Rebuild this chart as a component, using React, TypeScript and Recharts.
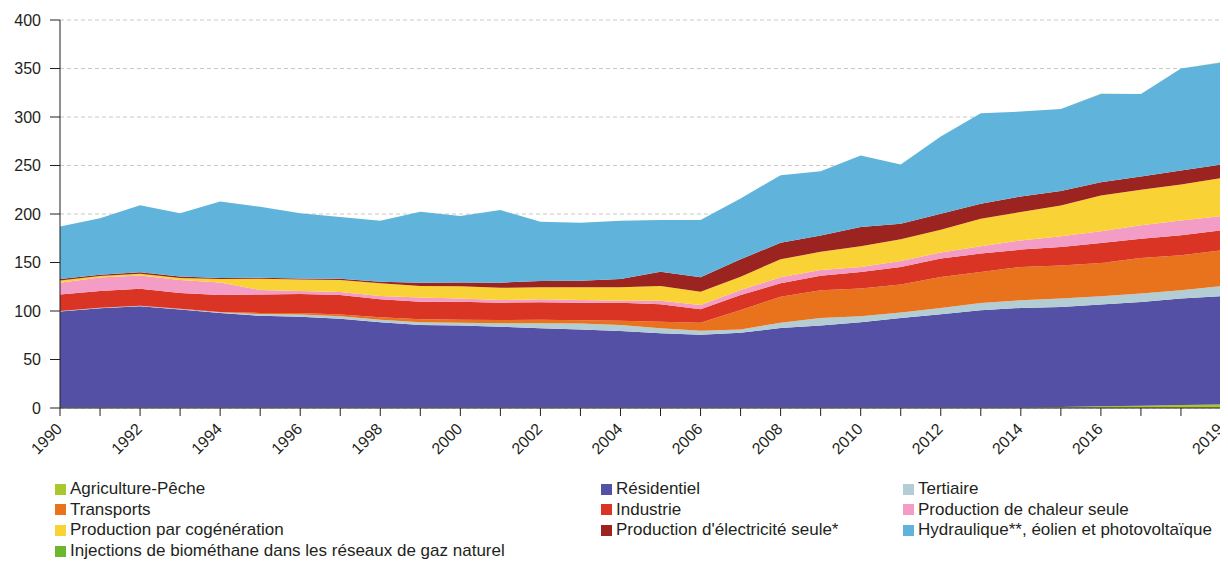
import React from "react";
import { AreaChart, Area, XAxis, YAxis, CartesianGrid } from "recharts";

const years = [
  1990, 1991, 1992, 1993, 1994, 1995, 1996, 1997, 1998, 1999,
  2000, 2001, 2002, 2003, 2004, 2005, 2006, 2007, 2008, 2009,
  2010, 2011, 2012, 2013, 2014, 2015, 2016, 2017, 2018, 2019,
];

const labelledYears = [1990, 1992, 1994, 1996, 1998, 2000, 2002, 2004, 2006, 2008, 2010, 2012, 2014, 2016, 2019];
const yTicks = [0, 50, 100, 150, 200, 250, 300, 350, 400];

const agriculture = [
  0.5, 0.5, 0.5, 0.5, 0.5, 0.5, 0.5, 0.5, 0.5, 0.5,
  0.5, 0.5, 0.5, 0.5, 0.5, 0.5, 0.5, 0.5, 0.5, 0.5,
  0.5, 0.5, 0.5, 0.5, 0.5, 1.0, 1.8, 2.4, 3.0, 3.5,
];
const residentiel = [
  99.0, 102.3, 104.5, 101.0, 97.5, 94.5, 93.5, 91.5, 88.0, 85.0,
  84.5, 83.3, 81.7, 80.5, 79.0, 76.5, 75.0, 77.0, 82.0, 84.5,
  88.0, 92.4, 96.2, 100.3, 102.7, 103.2, 104.9, 107.0, 109.9, 111.7,
];
const tertiaire = [
  0.5, 0.5, 0.5, 0.5, 0.8, 1.8, 2.5, 2.5, 2.5, 2.8,
  3.0, 3.7, 5.3, 6.0, 6.0, 5.2, 4.2, 3.5, 5.5, 7.8,
  6.2, 5.5, 6.5, 7.5, 7.9, 8.7, 8.5, 8.6, 8.5, 10.3,
];
const transports = [
  0, 0, 0, 0.2, 0.2, 1.2, 1.5, 2.0, 2.5, 3.1,
  3.0, 3.2, 3.5, 3.5, 4.5, 6.8, 8.3, 20.0, 26.8, 28.7,
  28.4, 28.8, 31.9, 31.9, 34.3, 33.9, 34.3, 36.6, 36.0, 37.1,
];
const industrie = [
  17.0, 17.3, 17.5, 16.3, 17.5, 19.0, 19.5, 20.0, 18.5, 18.1,
  18.6, 17.9, 18.0, 18.1, 18.6, 17.9, 13.7, 15.5, 13.7, 14.8,
  17.1, 18.2, 18.9, 19.0, 17.9, 19.2, 20.6, 20.0, 20.6, 20.5,
];
const chaleur = [
  12.0, 13.9, 13.5, 13.5, 13.0, 4.6, 3.1, 3.0, 3.5, 4.5,
  3.4, 2.7, 3.0, 2.7, 2.0, 3.7, 4.5, 5.1, 6.2, 5.9,
  5.2, 6.2, 6.2, 7.5, 9.5, 11.0, 12.0, 13.7, 15.4, 14.7,
];
const cogeneration = [
  2.5, 1.5, 2.0, 2.0, 3.5, 11.7, 11.9, 12.5, 13.0, 11.8,
  12.4, 12.7, 12.4, 13.1, 13.8, 15.2, 13.7, 13.8, 18.6, 18.8,
  21.3, 22.3, 23.6, 28.5, 29.2, 31.8, 37.0, 36.7, 37.1, 39.1,
];
const electricite = [
  1.5, 1.5, 1.5, 1.5, 1.0, 0.9, 1.0, 1.2, 1.7, 3.4,
  4.1, 5.2, 6.6, 6.9, 8.6, 14.7, 14.8, 17.9, 17.1, 16.8,
  19.8, 16.1, 16.5, 15.4, 16.1, 14.8, 13.7, 13.7, 14.4, 14.1,
];
const hydraulique = [
  54.0, 58.0, 69.0, 65.2, 79.0, 73.3, 67.2, 63.8, 62.8, 73.2,
  68.5, 74.8, 61.0, 59.7, 60.0, 53.3, 59.1, 62.7, 69.6, 66.2,
  73.8, 61.0, 79.5, 93.2, 87.5, 84.7, 91.0, 85.0, 105.0, 105.0,
];
const biomethane = [
  0, 0, 0, 0, 0, 0, 0, 0, 0, 0,
  0, 0, 0, 0, 0, 0, 0, 0, 0, 0,
  0, 0, 0, 0, 0, 0.02, 0.05, 0.1, 0.2, 0.3,
];

const series = [
  { key: "agriculture", name: "Agriculture-Pêche", color: "#a9c82d", values: agriculture },
  { key: "residentiel", name: "Résidentiel", color: "#5450a6", values: residentiel },
  { key: "tertiaire", name: "Tertiaire", color: "#b3cdd4", values: tertiaire },
  { key: "transports", name: "Transports", color: "#e8731c", values: transports },
  { key: "industrie", name: "Industrie", color: "#da3425", values: industrie },
  { key: "chaleur", name: "Production de chaleur seule", color: "#f29cc6", values: chaleur },
  { key: "cogeneration", name: "Production par cogénération", color: "#f9d336", values: cogeneration },
  { key: "electricite", name: "Production d'électricité seule*", color: "#9b2320", values: electricite },
  { key: "hydraulique", name: "Hydraulique**, éolien et photovoltaïque", color: "#60b4dc", values: hydraulique },
  { key: "biomethane", name: "Injections de biométhane dans les réseaux de gaz naturel", color: "#6cb72b", values: biomethane },
];

const data = years.map((year, i) => {
  const row: Record<string, number> = { year };
  series.forEach((s) => {
    row[s.key] = s.values[i];
  });
  return row;
});

const FONT = "'Liberation Sans', Arial, Helvetica, sans-serif";
const INK = "#231f20";

function YearTick(props: any) {
  const { x, y, payload } = props;
  if (!labelledYears.includes(payload.value)) return null;
  const ax = x + 3;
  const ay = y + 12;
  return (
    <text
      x={ax}
      y={ay}
      transform={`rotate(-45, ${ax}, ${ay})`}
      textAnchor="end"
      fontSize={16}
      fontFamily={FONT}
      fill={INK}
    >
      {payload.value}
    </text>
  );
}

// legend laid out in rows of three, like the source
const legendColumns = [47, 593, 895];

export default function App() {
  return (
    <div style={{ width: 1220, fontFamily: FONT, color: INK }}>
      <AreaChart
        width={1220}
        height={460}
        data={data}
        margin={{ top: 12, right: 7, bottom: 0, left: 0 }}
      >
        <CartesianGrid
          vertical={false}
          stroke="#c8c8c8"
          strokeDasharray="4 3"
        />
        <XAxis
          dataKey="year"
          type="number"
          domain={[1990, 2019]}
          ticks={years}
          interval={0}
          height={60}
          tickSize={8}
          stroke={INK}
          tickLine={{ stroke: INK }}
          tick={<YearTick />}
        />
        <YAxis
          domain={[0, 400]}
          ticks={yTicks}
          width={52}
          tickSize={10}
          tickMargin={9}
          stroke={INK}
          tick={{ fontSize: 16, fill: INK, fontFamily: FONT }}
        />
        {series.map((s) => (
          <Area
            key={s.key}
            dataKey={s.key}
            name={s.name}
            stackId="a"
            type="linear"
            stroke="none"
            fill={s.color}
            fillOpacity={1}
            isAnimationActive={false}
          />
        ))}
      </AreaChart>
      <div style={{ position: "relative", height: 85, marginTop: 11 }}>
        {series.map((s, i) => (
          <div
            key={s.key}
            style={{
              position: "absolute",
              left: legendColumns[i % 3],
              top: Math.floor(i / 3) * 20.7,
              height: 20,
              display: "flex",
              alignItems: "center",
              fontSize: 17,
              whiteSpace: "nowrap",
            }}
          >
            <span
              style={{
                display: "inline-block",
                width: 11,
                height: 11,
                background: s.color,
                marginRight: 4,
              }}
            />
            {s.name}
          </div>
        ))}
      </div>
    </div>
  );
}
